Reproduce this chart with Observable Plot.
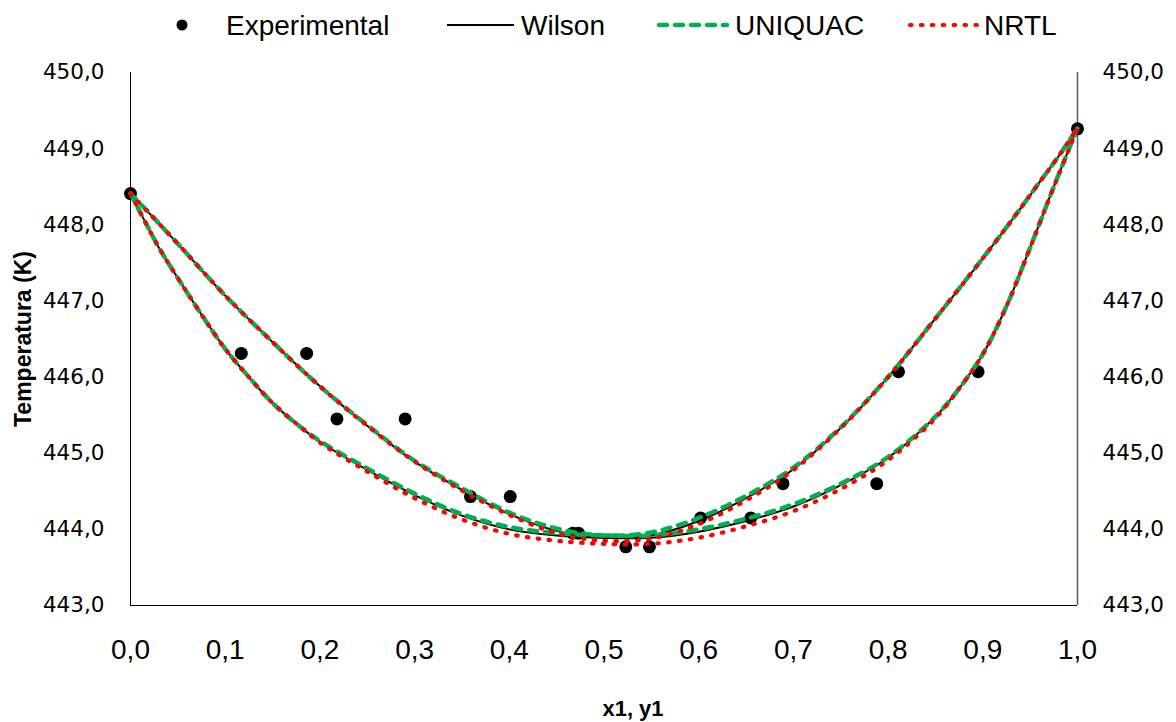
<!DOCTYPE html>
<html>
<head>
<meta charset="utf-8">
<script src="https://cdn.jsdelivr.net/npm/d3@7"></script>
<script src="https://cdn.jsdelivr.net/npm/@observablehq/plot@0.6"></script>
<style>
  html, body { margin: 0; padding: 0; background: #fff; }
  #wrap { position: relative; width: 1176px; height: 722px; background: #fff; }
  #legend { position: absolute; left: 0; top: 0; }
  #chart { position: absolute; left: 0; top: 0; }
</style>
</head>
<body>
<div id="wrap">
  <div id="chart"></div>
  <svg id="legend" width="1176" height="50"></svg>
</div>
<script>
// ---- Data ----
const xTicks = [0, 0.1, 0.2, 0.3, 0.4, 0.5, 0.6, 0.7, 0.8, 0.9, 1.0];
const yTicks = [443, 444, 445, 446, 447, 448, 449, 450];

// Experimental points
const expX = [0, 0.117, 0.186, 0.218, 0.290, 0.359, 0.401, 0.467, 0.473, 0.523, 0.548, 0.602, 0.655, 0.689, 0.788, 0.811, 0.895, 1.0];
const expT = [448.41, 446.31, 446.31, 445.45, 445.45, 444.43, 444.43, 443.95, 443.95, 443.77, 443.77, 444.15, 444.15, 444.60, 444.60, 446.07, 446.07, 449.26];

// Dew (upper) branch
const dewX = [0, 0.02, 0.05, 0.10, 0.15, 0.20, 0.25, 0.30, 0.35, 0.40, 0.45, 0.50, 0.55, 0.60, 0.65, 0.70, 0.75, 0.80, 0.85, 0.90, 0.93, 0.96, 0.98, 1.00];
const wilsonDewT  = [448.41, 448.15, 447.75, 447.07, 446.46, 445.88, 445.36, 444.89, 444.52, 444.20, 443.98, 443.89, 443.92, 444.11, 444.41, 444.79, 445.33, 446.00, 446.77, 447.56, 448.05, 448.56, 448.90, 449.27];
const uniquacDewT = [448.41, 448.15, 447.75, 447.07, 446.46, 445.88, 445.37, 444.90, 444.54, 444.22, 444.01, 443.92, 443.96, 444.15, 444.44, 444.81, 445.34, 446.00, 446.77, 447.56, 448.05, 448.56, 448.90, 449.27];
const nrtlDewT    = [448.41, 448.15, 447.75, 447.07, 446.46, 445.88, 445.36, 444.89, 444.51, 444.19, 443.95, 443.85, 443.88, 444.07, 444.38, 444.78, 445.33, 446.00, 446.77, 447.56, 448.05, 448.56, 448.90, 449.27];

// Bubble (lower) branch
const bubX = [0, 0.01, 0.03, 0.05, 0.075, 0.10, 0.125, 0.15, 0.175, 0.20, 0.25, 0.30, 0.35, 0.40, 0.45, 0.50, 0.55, 0.60, 0.65, 0.70, 0.75, 0.80, 0.85, 0.875, 0.90, 0.925, 0.95, 0.975, 1.00];
const wilsonBubT  = [448.41, 448.17, 447.70, 447.30, 446.82, 446.37, 446.00, 445.66, 445.39, 445.15, 444.78, 444.45, 444.18, 444.00, 443.92, 443.89, 443.89, 443.97, 444.11, 444.30, 444.58, 444.94, 445.48, 445.85, 446.30, 446.93, 447.70, 448.50, 449.27];
const uniquacBubT = [448.41, 448.17, 447.70, 447.30, 446.82, 446.37, 446.00, 445.66, 445.39, 445.16, 444.80, 444.47, 444.20, 444.03, 443.95, 443.92, 443.92, 444.00, 444.14, 444.33, 444.60, 444.95, 445.48, 445.85, 446.30, 446.93, 447.70, 448.50, 449.27];
const nrtlBubT    = [448.41, 448.17, 447.70, 447.30, 446.82, 446.37, 446.00, 445.66, 445.39, 445.14, 444.76, 444.41, 444.13, 443.94, 443.85, 443.81, 443.81, 443.89, 444.04, 444.24, 444.53, 444.91, 445.46, 445.85, 446.30, 446.93, 447.70, 448.50, 449.27];

// ---- Build tables ----
const experimental = expX.map((x, i) => ({x, T: expT[i]}));
function curve(dewT, bubT) {
  return [
    ...dewX.map((x, i) => ({x, T: dewT[i], branch: "dew"})),
    ...bubX.map((x, i) => ({x, T: bubT[i], branch: "bubble"}))
  ];
}
const wilson = curve(wilsonDewT, wilsonBubT);
const uniquac = curve(uniquacDewT, uniquacBubT);
const nrtl = curve(nrtlDewT, nrtlBubT);

const fmt1 = d => d.toFixed(1).replace(".", ",");
const tickFont = "DejaVu Sans, Verdana, sans-serif";
const xTickFont = "Liberation Sans, Arial, sans-serif";
const titleFont = "Liberation Sans, Arial, sans-serif";

const chart = Plot.plot({
  width: 1176,
  height: 722,
  marginTop: 72,
  marginBottom: 117,
  marginLeft: 130,
  marginRight: 99,
  style: {background: "#fff", color: "#000", fontFamily: tickFont},
  x: {domain: [0, 1]},
  y: {domain: [443, 450]},
  marks: [
    Plot.axisX(xTicks, {tickSize: 0, tickPadding: 34, tickFormat: fmt1, fontSize: 28, fontFamily: xTickFont, label: null}),
    Plot.axisY(yTicks, {anchor: "left", tickSize: 0, tickPadding: 26, tickFormat: fmt1, fontSize: 21.5, fontFamily: tickFont, label: null}),
    Plot.axisY(yTicks, {anchor: "right", tickSize: 0, tickPadding: 25, tickFormat: fmt1, fontSize: 21.5, fontFamily: tickFont, label: null}),
    Plot.ruleX([0], {stroke: "#000", strokeWidth: 1}),
    Plot.ruleX([1], {stroke: "#595959", strokeWidth: 1.5}),
    Plot.ruleY([443], {stroke: "#000", strokeWidth: 1}),
    Plot.dot(experimental, {x: "x", y: "T", r: 6.5, fill: "#000", stroke: "none"}),
    Plot.line(wilson, {x: "x", y: "T", z: "branch", stroke: "#000", strokeWidth: 2, curve: "catmull-rom"}),
    Plot.line(uniquac, {x: "x", y: "T", z: "branch", stroke: "#00B050", strokeWidth: 4.5, strokeDasharray: "8,8", strokeLinecap: "round", curve: "catmull-rom"}),
    Plot.line(nrtl, {x: "x", y: "T", z: "branch", stroke: "#FF0000", strokeWidth: 4.2, strokeDasharray: "1.5,9.4", strokeLinecap: "round", curve: "catmull-rom"}),
    Plot.text(["Temperatura (K)"], {frameAnchor: "left", dx: -107, rotate: -90, textAnchor: "middle", lineAnchor: "middle", fontWeight: "bold", fontSize: 23, fontFamily: titleFont, fill: "#000"}),
    Plot.text(["x1, y1"], {frameAnchor: "bottom", dy: 103, dx: 29, textAnchor: "middle", lineAnchor: "middle", fontWeight: "bold", fontSize: 22, fontFamily: titleFont, fill: "#000"})
  ]
});
document.getElementById("chart").appendChild(chart);

// ---- Legend (above the plot area) ----
const legendItems = [
  {name: "Experimental", type: "dot", x0: 182, tx: 226},
  {name: "Wilson", type: "line", x0: 447, x1: 514, tx: 521, stroke: "#000", w: 2, dash: null},
  {name: "UNIQUAC", type: "line", x0: 659, x1: 727, tx: 735, stroke: "#00B050", w: 4.5, dash: "8,8", cap: "round"},
  {name: "NRTL", type: "line", x0: 910, x1: 978, tx: 984, stroke: "#FF0000", w: 4.2, dash: "1.5,9.4", cap: "round"}
];
const lg = d3.select("#legend");
const ly = 25;
for (const it of legendItems) {
  if (it.type === "dot") {
    lg.append("circle").attr("cx", it.x0).attr("cy", ly).attr("r", 5.5).attr("fill", "#000");
  } else {
    const ln = lg.append("line").attr("x1", it.x0).attr("x2", it.x1).attr("y1", ly).attr("y2", ly)
      .attr("stroke", it.stroke).attr("stroke-width", it.w);
    if (it.dash) ln.attr("stroke-dasharray", it.dash);
    if (it.cap) ln.attr("stroke-linecap", it.cap);
  }
  lg.append("text").attr("x", it.tx).attr("y", ly).attr("dy", "0.35em")
    .attr("font-family", titleFont).attr("font-size", 28).attr("fill", "#000").text(it.name);
}
</script>
</body>
</html>
